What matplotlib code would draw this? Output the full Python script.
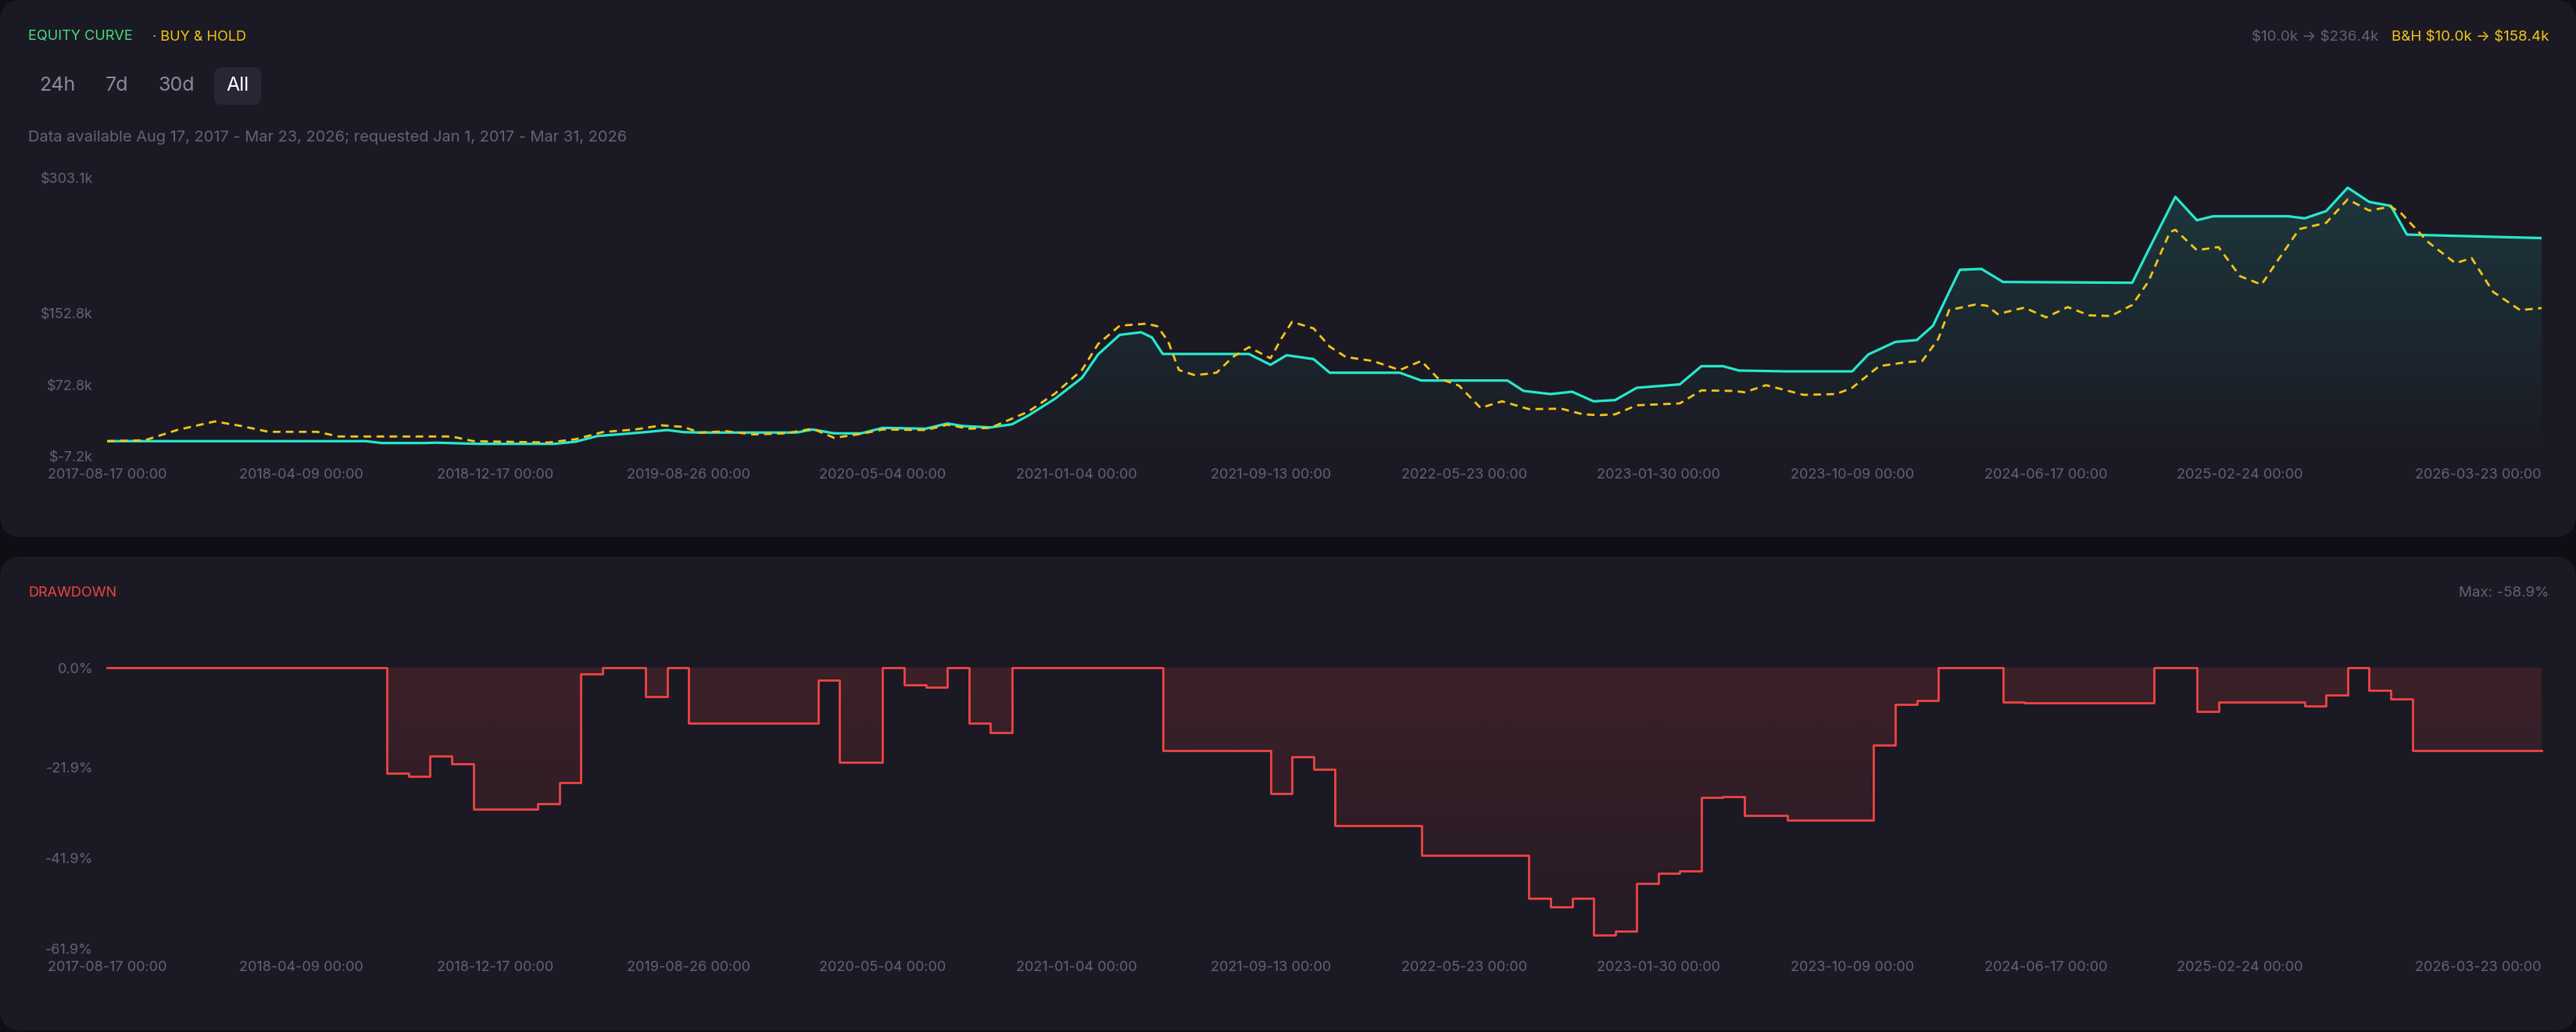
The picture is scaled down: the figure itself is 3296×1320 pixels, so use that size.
import numpy as np
import matplotlib
matplotlib.use("Agg")
import matplotlib.pyplot as plt
from matplotlib.patches import FancyBboxPatch, Polygon

W, H = 3296, 1320

# x axis is one point per week, labels every 36 weeks
tick_idx = [0, 36, 72, 108, 144, 180, 216, 252, 288, 324, 360, 396, 452]
tick_labels = ["2017-08-17 00:00", "2018-04-09 00:00", "2018-12-17 00:00", "2019-08-26 00:00",
               "2020-05-04 00:00", "2021-01-04 00:00", "2021-09-13 00:00", "2022-05-23 00:00",
               "2023-01-30 00:00", "2023-10-09 00:00", "2024-06-17 00:00", "2025-02-24 00:00",
               "2026-03-23 00:00"]

# strategy equity ($k)
eq_idx = [0, 48, 51, 59, 61, 69, 83, 87, 91, 96, 100, 104, 107, 110, 128, 131, 135, 140, 144, 152,
          156, 159, 164, 168, 171, 176, 181, 184, 188, 192, 194, 196, 212, 216, 219, 224, 227, 240,
          244, 260, 263, 268, 272, 276, 280, 284, 292, 296, 300, 303, 312, 324, 327, 332, 336, 339,
          342, 344, 348, 352, 376, 379, 384, 388, 391, 405, 408, 412, 416, 420, 424, 427, 452]
eq_val = [10.0, 10.0, 7.9, 7.9, 8.3, 7.0, 7.0, 9.4, 15.7, 18.1, 20.1, 22.4, 20.1, 19.6, 19.6, 23.0,
          18.7, 18.7, 24.8, 23.9, 29.7, 26.8, 25.3, 28.8, 38.4, 57.3, 80.6, 106.7, 128.5, 131.4,
          125.6, 107.2, 107.2, 95.1, 105.8, 101.5, 86.3, 86.3, 77.6, 77.6, 66.0, 62.5, 65.1, 54.4,
          55.8, 69.5, 73.3, 93.6, 93.6, 88.7, 87.8, 87.8, 106.7, 120.6, 122.7, 138.7, 176.4, 201.1,
          202.0, 187.5, 186.6, 222.9, 282.4, 256.3, 260.7, 260.7, 258.4, 266.5, 292.6, 276.7,
          272.3, 240.3, 236.4]

# buy & hold ($k)
bh_idx = [0, 7, 13, 20, 25, 30, 39, 43, 64, 68, 82, 87, 92, 98, 103, 107, 110, 115, 120, 126, 131,
          135, 140, 144, 152, 156, 160, 164, 171, 176, 181, 184, 188, 193, 195, 197, 199, 202, 206,
          209, 212, 216, 218, 220, 224, 227, 230, 235, 240, 244, 247, 251, 255, 259, 264, 270, 274,
          277, 280, 284, 292, 296, 302, 304, 308, 315, 321, 324, 329, 334, 337, 340, 342, 347, 349,
          351, 356, 360, 364, 368, 372, 376, 379, 383, 384, 388, 392, 396, 400, 403, 407, 412, 416,
          420, 424, 426, 431, 436, 439, 443, 448, 452]
bh_val = [10.0, 11.0, 22.4, 32.0, 26.8, 20.4, 20.4, 15.2, 15.2, 10.0, 8.5, 12.2, 20.1, 23.0, 27.6,
          25.9, 19.6, 21.0, 17.5, 18.7, 23.9, 13.7, 18.1, 23.0, 22.4, 28.3, 23.9, 24.8, 42.8, 63.1,
          89.3, 118.3, 138.7, 141.0, 138.1, 121.2, 89.3, 83.5, 86.3, 103.8, 114.8, 102.4, 124.1,
          143.0, 135.7, 115.4, 103.8, 99.4, 89.3, 99.4, 80.6, 71.9, 47.1, 54.4, 45.7, 46.2, 39.9,
          39.0, 39.9, 50.0, 52.1, 66.6, 66.0, 64.5, 72.4, 61.6, 62.5, 69.5, 93.6, 98.0, 99.4, 124.1,
          156.1, 162.5, 161.0, 151.7, 158.9, 148.0, 159.5, 150.3, 149.5, 161.9, 188.0, 243.2, 245.6,
          222.9, 226.4, 193.9, 184.6, 211.3, 246.4, 253.4, 279.6, 267.1, 271.5, 263.6, 231.6, 208.4,
          214.2, 176.4, 156.1, 158.4]

# drawdown (%), one step every 4 weeks
dd_idx = [0, 52, 56, 60, 64, 68, 80, 84, 88, 92, 100, 104, 108, 132, 136, 144, 148, 152, 156, 160,
          164, 168, 196, 216, 220, 224, 228, 244, 264, 268, 272, 276, 280, 284, 288, 292, 296, 300,
          304, 312, 328, 332, 336, 340, 352, 356, 380, 388, 392, 396, 408, 412, 416, 420, 424, 428,
          452]
dd_val = [0, -23.2, -23.9, -19.5, -21.1, -31.2, -30.0, -25.3, -1.4, 0, -6.3, 0, -12.2, -2.7, -20.9,
          0, -3.8, -4.2, 0, -12.2, -14.2, 0, -18.3, -27.7, -19.6, -22.4, -34.8, -41.3, -50.8, -52.7,
          -50.8, -58.9, -58.1, -47.5, -45.3, -44.7, -28.6, -28.4, -32.6, -33.5, -17.1, -8.1, -7.2, 0,
          -7.6, -7.8, 0, -9.6, -7.5, -7.6, -8.4, -6.0, 0, -4.9, -6.8, -18.2, -18.2]

eq_ticks = [-7.2, 72.8, 152.8, 303.1]
dd_ticks = [0.0, -21.9, -41.9, -61.9]

plt.rcParams['font.family'] = ['Inter', 'DejaVu Sans']

BG = '#0e0e15'
PANEL = '#1b1a24'
MUTED = '#62627a'
TEAL = '#27e8cc'
GOLD = '#f5c518'
GREEN = '#4ade80'
RED = '#ef4444'

fig = plt.figure(figsize=(W / 100, H / 100), dpi=100, facecolor=BG)


def frac(x0, y0, x1, y1):
    return [x0 / W, 1 - y1 / H, (x1 - x0) / W, (y1 - y0) / H]


def txt(x, y, s, **kw):
    fig.text(x / W, 1 - y / H, s, va='center', **kw)


# panels
bg = fig.add_axes([0, 0, 1, 1])
bg.set_xlim(0, W)
bg.set_ylim(H, 0)
bg.axis('off')
for (x0, y0, x1, y1) in [(0, 0, W, 687), (0, 712, W, 1318)]:
    bg.add_patch(FancyBboxPatch((x0, y0), x1 - x0, y1 - y0,
                                boxstyle="round,pad=0,rounding_size=28",
                                facecolor=PANEL, edgecolor='none'))
bg.add_patch(FancyBboxPatch((274, 86), 60, 48, boxstyle="round,pad=0,rounding_size=10",
                            facecolor='#272634', edgecolor='none'))

# header texts
txt(36, 47, "EQUITY CURVE", color=GREEN, fontsize=13)
txt(195, 47, "· BUY & HOLD", color=GOLD, fontsize=13)
txt(3261, 47, r"B&H \$10.0k → \$158.4k", color=GOLD, fontsize=13.5, ha='right')
txt(3043, 47, r"\$10.0k → \$236.4k", color=MUTED, fontsize=13.5, ha='right')
for x, lab in [(73, "24h"), (149, "7d"), (226, "30d")]:
    txt(x, 110, lab, color='#8a8aa0', fontsize=18, ha='center')
txt(304, 110, "All", color='white', fontsize=18, ha='center')
txt(36, 176, "Data available Aug 17, 2017 - Mar 23, 2026; requested Jan 1, 2017 - Mar 31, 2026",
    color=MUTED, fontsize=14.4)
txt(36, 759, "DRAWDOWN", color=RED, fontsize=13)
txt(3261, 759, "Max: -58.9%", color=MUTED, fontsize=13.5, ha='right')


def grad_fill(ax, verts, rgb, a_top, a_bot):
    poly = Polygon(verts, closed=True, facecolor='none', edgecolor='none')
    ax.add_patch(poly)
    x0, x1 = ax.get_xlim()
    y0, y1 = ax.get_ylim()
    grad = np.zeros((256, 1, 4))
    grad[..., :3] = rgb
    grad[..., 3] = np.linspace(a_top, a_bot, 256)[:, None]
    im = ax.imshow(grad, extent=[x0, x1, y0, y1], origin='upper', aspect='auto', zorder=1)
    im.set_clip_path(poly)
    ax.set_xlim(x0, x1)
    ax.set_ylim(y0, y1)


def style(ax, ticks, labels):
    ax.set_facecolor('none')
    for s in ax.spines.values():
        s.set_visible(False)
    ax.set_xlim(0, 452)
    ax.set_xticks(tick_idx)
    ax.set_xticklabels(tick_labels)
    ax.set_yticks(ticks)
    ax.set_yticklabels(labels)
    ax.tick_params(length=0, colors=MUTED, labelsize=13)
    ax.tick_params(axis='y', pad=13)
    ax.tick_params(axis='x', pad=11)
    ax.get_xticklabels()[-1].set_ha('right')


# equity curve
ax1 = fig.add_axes(frac(137, 228, 3252, 584))
style(ax1, eq_ticks, [f"${v:.1f}k" for v in eq_ticks])
ax1.set_ylim(-7.2, 303.1)
teal_rgb = matplotlib.colors.to_rgb(TEAL)
grad_fill(ax1, [(eq_idx[0], -7.2)] + list(zip(eq_idx, eq_val)) + [(eq_idx[-1], -7.2)],
          teal_rgb, 0.15, 0.0)
ax1.plot(eq_idx, eq_val, color=TEAL, lw=2.3, solid_joinstyle='round', zorder=3)
ax1.plot(bh_idx, bh_val, color=GOLD, lw=2.0, dashes=(3.5, 2.5), zorder=4)

# drawdown
ax2 = fig.add_axes(frac(137, 854.2, 3252, 1213.3))
style(ax2, dd_ticks, [f"{v:.1f}%" for v in dd_ticks])
ax2.set_ylim(-61.9, 0)
sx, sy = [], []
for i in range(len(dd_idx)):
    if i > 0:
        sx.append(dd_idx[i])
        sy.append(dd_val[i - 1])
    sx.append(dd_idx[i])
    sy.append(dd_val[i])
grad_fill(ax2, [(0, 0)] + list(zip(sx, sy)) + [(452, 0)],
          matplotlib.colors.to_rgb(RED), 0.16, 0.04)
ax2.plot(sx, sy, color=RED, lw=2.0, clip_on=False, zorder=3)

fig.savefig("out.png", dpi=100, facecolor=BG)
